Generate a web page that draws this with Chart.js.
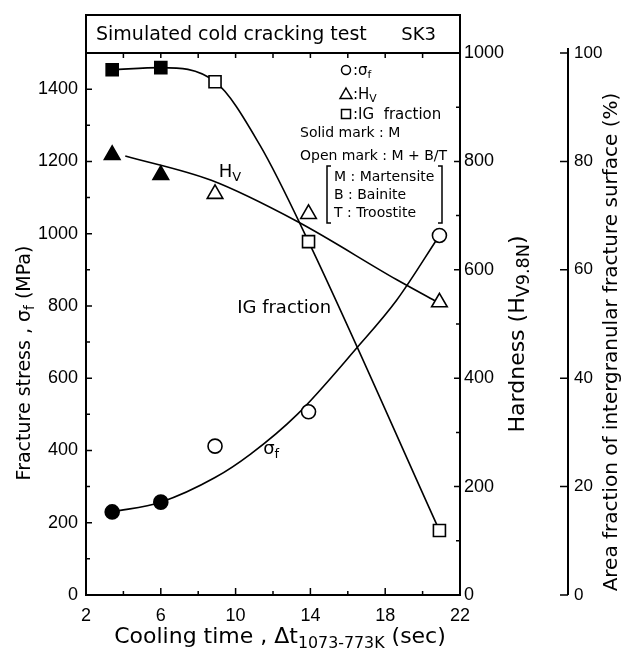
<!DOCTYPE html>
<html>
<head>
<meta charset="utf-8">
<script src="https://cdn.jsdelivr.net/npm/chart.js@4.4.1/dist/chart.umd.min.js"></script>
<style>
  body { margin: 0; background: #fff; }
  canvas { display: block; }
</style>
</head>
<body>
<canvas id="chart" width="621" height="652"></canvas>
<script>
// Measured specimens, cooling time (sec)
const coolingTime = [3.4, 6, 8.9, 13.9, 20.9];
const structure = ["M", "M", "M+B/T", "M+B/T", "M+B/T"];
const fractureStress = [230, 257, 412, 507, 995];
const hardness = [812, 775, 740, 703, 540];
const igFraction = [96.9, 97.3, 94.7, 65.2, 11.9];

// Hand drawn trend curves
const stressCurveX = [3.4, 6, 8.9, 10.8, 13.3, 16.5, 18.6, 20.9];
const stressCurveY = [230, 257, 325, 390, 500, 685, 815, 995];
const hardnessCurveX = [4.1, 8.7, 13.3, 18.6, 20.7];
const hardnessCurveY = [810, 765, 689, 582, 542];
const igCurveX = [3.4, 6, 8.9, 11.3, 13.9, 20.9];
const igCurveY = [96.9, 97.3, 94.7, 83, 65.2, 11.9];

// Tick labels
const timeTicks = [2, 6, 10, 14, 18, 22];
const stressTicks = [0, 200, 400, 600, 800, 1000, 1200, 1400];
const hardnessTicks = [0, 200, 400, 600, 800, 1000];
const areaTicks = [0, 20, 40, 60, 80, 100];

const TEXT_FONT = "'DejaVu Sans', sans-serif";
Chart.defaults.font.family = "'Liberation Sans', Arial, sans-serif";
Chart.defaults.color = "#000";

const toPoints = (xs, ys) => xs.map((x, i) => ({ x: x, y: ys[i] }));
const markFill = structure.map((s) => (s === "M" ? "#000" : "#fff"));

function markerSet(ys, axis, style, radius) {
  return {
    data: toPoints(coolingTime, ys),
    yAxisID: axis,
    pointStyle: style,
    pointRadius: radius,
    pointBorderWidth: 1.6,
    pointBorderColor: "#000",
    pointBackgroundColor: markFill,
    showLine: false,
    order: 0,
  };
}

function curveSet(xs, ys, axis) {
  return {
    data: toPoints(xs, ys),
    yAxisID: axis,
    showLine: true,
    pointRadius: 0,
    borderColor: "#000",
    borderWidth: 1.6,
    cubicInterpolationMode: "monotone",
    order: 1,
  };
}

const setTicks = (list) => (scale) => {
  scale.ticks = list.map((v) => ({ value: v }));
};
const plain = (v) => String(v);

// text with subscripts: parts = [[text, isSub], ...], y is baseline
function richText(ctx, parts, x, y, size, align, subScale) {
  const k = subScale || 0.72;
  const sizes = parts.map((p) => (p[1] ? size * k : size));
  const widths = parts.map((p, i) => {
    ctx.font = sizes[i] + "px " + TEXT_FONT;
    return ctx.measureText(p[0]).width;
  });
  const total = widths.reduce((a, b) => a + b, 0);
  let cx = align === "center" ? x - total / 2 : align === "right" ? x - total : x;
  ctx.textAlign = "left";
  ctx.textBaseline = "alphabetic";
  parts.forEach((p, i) => {
    ctx.font = sizes[i] + "px " + TEXT_FONT;
    ctx.fillText(p[0], cx, y + (p[1] ? size * 0.22 : 0));
    cx += widths[i];
  });
}

function rotatedText(ctx, parts, x, y, size, subScale) {
  ctx.save();
  ctx.translate(x, y);
  ctx.rotate(-Math.PI / 2);
  richText(ctx, parts, 0, size * 0.35, size, "center", subScale);
  ctx.restore();
}

function symbol(ctx, style, x, y) {
  ctx.beginPath();
  if (style === "circle") ctx.arc(x, y, 4.5, 0, Math.PI * 2);
  if (style === "rect") ctx.rect(x - 4.5, y - 4.5, 9, 9);
  if (style === "triangle") {
    ctx.moveTo(x, y - 6);
    ctx.lineTo(x + 6, y + 4.5);
    ctx.lineTo(x - 6, y + 4.5);
    ctx.closePath();
  }
  ctx.stroke();
}

const frame = {
  id: "frame",
  afterDraw(chart) {
    const { ctx, chartArea: a } = chart;
    const { x, y, yH, yA } = chart.scales;
    const boxTop = 15;
    ctx.save();
    ctx.strokeStyle = "#000";
    ctx.fillStyle = "#000";
    ctx.lineWidth = 2;
    ctx.beginPath();
    ctx.moveTo(a.left, a.bottom);
    ctx.lineTo(a.left, boxTop);
    ctx.lineTo(a.right, boxTop);
    ctx.lineTo(a.right, a.bottom);
    ctx.closePath();
    ctx.moveTo(a.left, a.top);
    ctx.lineTo(a.right, a.top);
    // third axis line
    const ax = yA.left;
    ctx.moveTo(ax, yA.getPixelForValue(100) - 5);
    ctx.lineTo(ax, yA.getPixelForValue(0));
    ctx.stroke();

    ctx.lineWidth = 1.5;
    ctx.beginPath();
    for (let v = 2; v <= 22; v += 2) {
      const px = x.getPixelForValue(v);
      const len = timeTicks.includes(v) ? 7 : 4;
      ctx.moveTo(px, a.bottom);
      ctx.lineTo(px, a.bottom - len);
      ctx.moveTo(px, a.top);
      ctx.lineTo(px, a.top + 5);
    }
    for (let v = 100; v < 1500; v += 100) {
      const py = y.getPixelForValue(v);
      ctx.moveTo(a.left, py);
      ctx.lineTo(a.left + (stressTicks.includes(v) ? 6 : 4), py);
    }
    for (let v = 100; v < 1000; v += 100) {
      const py = yH.getPixelForValue(v);
      ctx.moveTo(a.right, py);
      ctx.lineTo(a.right - (hardnessTicks.includes(v) ? 6 : 4), py);
    }
    areaTicks.forEach((v) => {
      const py = yA.getPixelForValue(v);
      ctx.moveTo(ax, py);
      ctx.lineTo(ax - 8, py);
    });
    ctx.stroke();

    // title box
    richText(ctx, [["Simulated cold cracking test", false]], a.left + 10, 40, 19, "left");
    richText(ctx, [["SK3", false]], a.right - 24, 40, 18, "right");

    // axis titles
    richText(ctx, [["Cooling time , \u0394t", false], ["1073-773K", true], [" (sec)", false]],
      (a.left + a.right) / 2 + 7, 643, 22, "center");
    rotatedText(ctx, [["Fracture stress , \u03c3", false], ["f", true], [" (MPa)", false]], 23, 363, 19);
    rotatedText(ctx, [["Hardness (H", false], ["V9.8N", true], [")", false]], 516, 334, 22, 0.8);
    rotatedText(ctx, [["Area fraction of intergranular fracture surface (%)", false]], 610, 342, 20);

    // curve labels
    richText(ctx, [["H", false], ["V", true]], x.getPixelForValue(9.7), yH.getPixelForValue(771), 18, "center");
    richText(ctx, [["IG fraction", false]], x.getPixelForValue(12.6), y.getPixelForValue(780), 18, "center");
    richText(ctx, [["\u03c3", false], ["f", true]], x.getPixelForValue(11.9), y.getPixelForValue(390), 18, "center");

    // legend block
    const lx = a.right - 114;
    const t = a.top;
    ctx.lineWidth = 1.5;
    symbol(ctx, "circle", lx, t + 17);
    symbol(ctx, "triangle", lx, t + 41);
    symbol(ctx, "rect", lx, t + 61);
    richText(ctx, [[":", false], ["\u03c3", false], ["f", true]], lx + 7, t + 22, 15, "left");
    richText(ctx, [[":", false], ["H", false], ["V", true]], lx + 7, t + 46, 15, "left");
    richText(ctx, [[":", false], ["IG  fraction", false]], lx + 7, t + 66, 15, "left");
    richText(ctx, [["Solid mark : M", false]], a.right - 160, t + 84, 14, "left");
    richText(ctx, [["Open mark : M + B/T", false]], a.right - 160, t + 107, 14, "left");
    richText(ctx, [["M : Martensite", false]], a.right - 126, t + 128, 14, "left");
    richText(ctx, [["B : Bainite", false]], a.right - 126, t + 146, 14, "left");
    richText(ctx, [["T : Troostite", false]], a.right - 126, t + 164, 14, "left");
    const bl = a.right - 133, br = a.right - 18, bt = t + 113, bb = t + 170;
    ctx.beginPath();
    ctx.moveTo(bl + 4, bt); ctx.lineTo(bl, bt); ctx.lineTo(bl, bb); ctx.lineTo(bl + 4, bb);
    ctx.moveTo(br - 4, bt); ctx.lineTo(br, bt); ctx.lineTo(br, bb); ctx.lineTo(br - 4, bb);
    ctx.stroke();
    ctx.restore();
  },
};

const config = {
  type: "scatter",
  data: {
    datasets: [
      markerSet(fractureStress, "y", "circle", 7),
      markerSet(hardness, "yH", "triangle", 9),
      markerSet(igFraction, "yA", "rect", 8.5),
      curveSet(stressCurveX, stressCurveY, "y"),
      curveSet(hardnessCurveX, hardnessCurveY, "yH"),
      curveSet(igCurveX, igCurveY, "yA"),
    ],
  },
  options: {
    responsive: false,
    animation: false,
    layout: { padding: { top: 53, left: 0, right: 0, bottom: 0 } },
    plugins: {
      legend: { display: false },
      tooltip: { enabled: false },
    },
    scales: {
      x: {
        type: "linear",
        min: 2,
        max: 22,
        afterBuildTicks: setTicks(timeTicks),
        afterFit: (s) => { s.height = 57; },
        ticks: { font: { size: 18 }, padding: 10, maxRotation: 0, callback: plain },
        grid: { display: false, drawTicks: false },
        border: { display: false },
      },
      y: {
        position: "left",
        min: 0,
        max: 1500,
        afterBuildTicks: setTicks(stressTicks),
        afterFit: (s) => { s.width = 86; },
        ticks: { font: { size: 18 }, padding: 8, callback: plain },
        grid: { display: false, drawTicks: false },
        border: { display: false },
      },
      yH: {
        position: "right",
        weight: 0,
        min: 0,
        max: 1000,
        afterBuildTicks: setTicks(hardnessTicks),
        afterFit: (s) => { s.width = 108; },
        ticks: { font: { size: 18 }, padding: 4, callback: plain },
        grid: { display: false, drawTicks: false },
        border: { display: false },
      },
      yA: {
        position: "right",
        weight: 1,
        min: 0,
        max: 100,
        afterBuildTicks: setTicks(areaTicks),
        afterFit: (s) => { s.width = 53; },
        ticks: { font: { size: 17 }, padding: 6, callback: plain },
        grid: { display: false, drawTicks: false },
        border: { display: false },
      },
    },
  },
  plugins: [frame],
};

const chart = new Chart(document.getElementById("chart"), config);
</script>
</body>
</html>
